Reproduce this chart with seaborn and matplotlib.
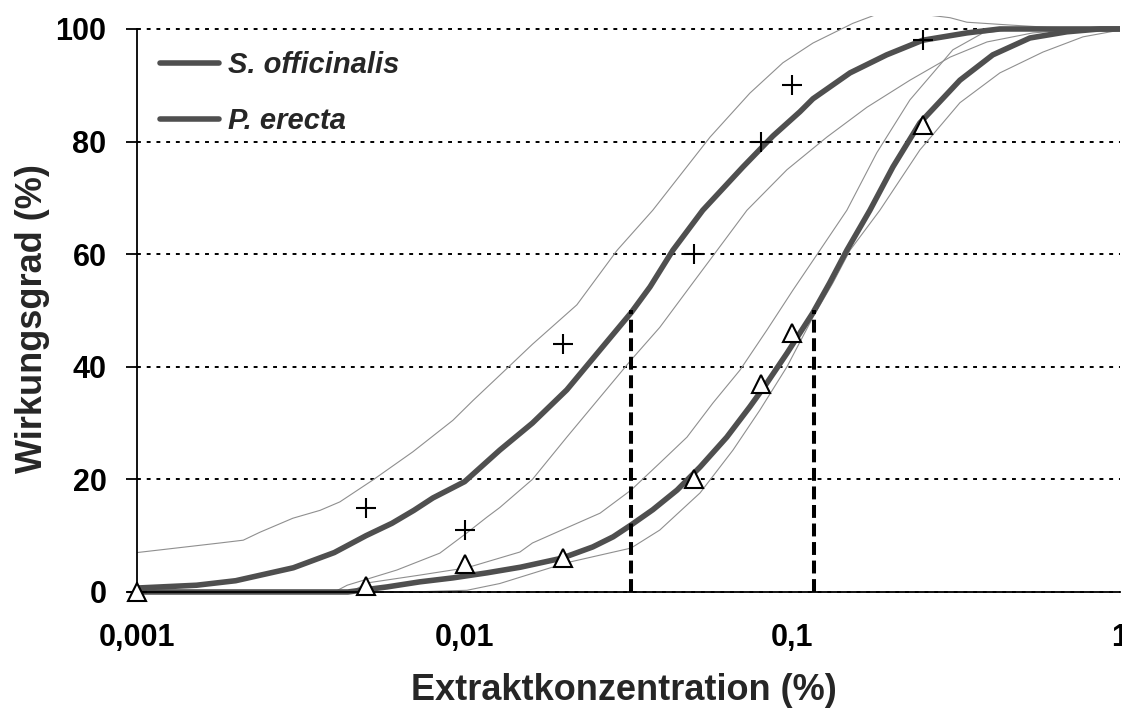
import numpy as np
import pandas as pd
import matplotlib
matplotlib.use("Agg")
import matplotlib.pyplot as plt
import matplotlib.ticker as mticker
from matplotlib.lines import Line2D
import seaborn as sns

# ---------------- data ----------------
# S. officinalis fitted curve and confidence band
s_fit_x = [0.001, 0.00152, 0.002, 0.003, 0.004, 0.005, 0.006, 0.007, 0.008, 0.01,
           0.0128, 0.0161, 0.0205, 0.0259, 0.0322, 0.0368, 0.0432, 0.0533, 0.0707,
           0.0873, 0.1055, 0.1156, 0.15, 0.194, 0.25, 0.341, 0.43, 1.0]
s_fit_y = [0.7, 1.2, 2.0, 4.3, 7.0, 10.0, 12.2, 14.5, 16.7, 19.6,
           25.2, 30.0, 35.9, 43.0, 49.6, 54.2, 60.7, 67.8, 75.5,
           81.0, 85.3, 87.6, 92.2, 95.4, 98.0, 99.3, 100.0, 100.0]
s_up_x = [0.001, 0.00179, 0.00211, 0.00237, 0.00299, 0.00362, 0.00416, 0.00525, 0.00695,
          0.00921, 0.0106, 0.0128, 0.0161, 0.022, 0.0292, 0.0375, 0.0561, 0.0742, 0.0936,
          0.1156, 0.153, 0.181, 0.25, 0.303, 0.341, 0.461, 0.6, 1.0]
s_up_y = [7.0, 8.7, 9.2, 10.6, 13.1, 14.5, 16.0, 19.9, 24.9,
          30.5, 34.0, 38.5, 44.0, 51.0, 60.7, 67.8, 80.8, 88.6, 94.0,
          97.5, 101.0, 102.6, 102.6, 102.0, 101.2, 100.7, 100.3, 100.0]
s_lo_x = [0.001, 0.004, 0.00438, 0.00621, 0.0084, 0.01016, 0.0117, 0.0128, 0.0161, 0.0205,
          0.0259, 0.0322, 0.0394, 0.0497, 0.0561, 0.0727, 0.0963, 0.1275, 0.169, 0.2285,
          0.303, 0.393, 0.542, 0.771, 1.0]
s_lo_y = [0.0, 0.0, 1.2, 3.9, 6.9, 10.5, 13.3, 15.0, 20.0, 27.5,
          34.6, 41.2, 47.0, 54.9, 59.0, 67.8, 75.0, 80.8, 86.1, 90.9,
          95.0, 97.7, 99.3, 100.0, 100.0]

# P. erecta fitted curve and confidence band
p_fit_x = [0.001, 0.0044, 0.0058, 0.0073, 0.0092, 0.0117, 0.0148, 0.0198, 0.0246, 0.0284,
           0.0322, 0.0375, 0.0445, 0.0523, 0.0631, 0.0742, 0.0836, 0.0963, 0.1055, 0.1156,
           0.130, 0.1467, 0.1725, 0.2028, 0.245, 0.3247, 0.409, 0.531, 0.689, 0.868, 1.0]
p_fit_y = [0.0, 0.0, 0.9, 1.8, 2.5, 3.4, 4.4, 6.0, 8.0, 9.8,
           11.9, 14.6, 18.1, 22.2, 27.5, 32.9, 37.1, 42.4, 46.0, 49.6,
           54.9, 60.7, 67.8, 75.5, 83.3, 90.9, 95.4, 98.4, 99.5, 100.0, 100.0]
p_up_x = [0.001, 0.0045, 0.00503, 0.0073, 0.01016, 0.01475, 0.0161, 0.0205, 0.0259, 0.0322,
          0.0394, 0.0477, 0.0573, 0.0692, 0.0836, 0.1004, 0.1214, 0.1467, 0.181, 0.2285,
          0.309, 0.382, 0.484, 1.0]
p_up_y = [0.0, 0.0, 1.6, 3.0, 4.3, 7.1, 8.7, 11.4, 14.0, 18.1,
          22.9, 27.5, 33.6, 39.4, 46.5, 53.6, 60.7, 67.8, 78.0, 87.4,
          96.3, 99.3, 100.0, 100.0]
p_lo_x = [0.001, 0.0069, 0.01016, 0.0128, 0.0205, 0.0322, 0.0394, 0.0523, 0.0659, 0.0796,
          0.0963, 0.1156, 0.133, 0.15, 0.185, 0.245, 0.3247, 0.43, 0.582, 0.771, 1.0]
p_lo_y = [0.0, 0.0, 0.3, 1.5, 5.2, 7.8, 11.0, 17.6, 25.2, 32.3,
          40.0, 48.8, 54.9, 60.7, 67.8, 78.5, 86.9, 92.2, 95.9, 98.6, 99.8]

# measured points
conc = [0.001, 0.005, 0.01, 0.02, 0.05, 0.08, 0.1, 0.25]
s_obs = [0, 15, 11, 44, 60, 80, 90, 98]
p_obs = [0, 1, 5, 6, 20, 37, 46, 83]

# EC50 values (dashed guides)
ec50 = [0.0322, 0.1164]
ec50_level = 50

series_names = ["S. officinalis", "P. erecta"]
x_ticks = [0.001, 0.01, 0.1, 1]
x_ticklabels = ["0,001", "0,01", "0,1", "1"]
y_ticks = [0, 20, 40, 60, 80, 100]
y_ticklabels = ["0", "20", "40", "60", "80", "100"]
x_label = "Extraktkonzentration (%)"
y_label = "Wirkungsgrad (%)"

# ---------------- styling ----------------
sns.set_style("white")
plt.rcParams["font.family"] = ["Liberation Sans", "DejaVu Sans"]
plt.rcParams["font.weight"] = "bold"

MAIN = "#4f4f4f"
BAND = "#8f8f8f"

fig = plt.figure(figsize=(11.22, 7.09), dpi=100)
ax = fig.add_axes([0.1221, 0.1587, 0.8761, 0.8187])

for xs, ys in [(s_up_x, s_up_y), (s_lo_x, s_lo_y), (p_up_x, p_up_y), (p_lo_x, p_lo_y)]:
    sns.lineplot(x=xs, y=ys, ax=ax, color=BAND, linewidth=0.8, estimator=None,
                 sort=False, zorder=2)
for xs, ys in [(s_fit_x, s_fit_y), (p_fit_x, p_fit_y)]:
    sns.lineplot(x=xs, y=ys, ax=ax, color=MAIN, linewidth=4.0, estimator=None,
                 sort=False, zorder=3)

ax.vlines(ec50, 0, ec50_level, colors="black", linewidth=2.9,
          linestyles=(0, (3.2, 1.4)), zorder=4)

ax.plot(conc, s_obs, linestyle="none", marker="+", markersize=15, mew=1.5,
        color="black", zorder=5, clip_on=False)
ax.plot(conc, p_obs, linestyle="none", marker="^", markersize=13, mew=1.5,
        markerfacecolor="white", markeredgecolor="black", zorder=5, clip_on=False)

ax.set_xscale("log")
ax.set_xlim(0.001, 1)
ax.set_ylim(-0.8, 102.3)

ax.spines["top"].set_visible(False)
ax.spines["right"].set_visible(False)
ax.spines["bottom"].set_position(("data", 0))
ax.spines["left"].set_bounds(0, 100)
for sp in ["left", "bottom"]:
    ax.spines[sp].set_color("black")
    ax.spines[sp].set_linewidth(1.3)
    ax.spines[sp].set_zorder(4.5)

ax.xaxis.set_major_locator(mticker.FixedLocator(x_ticks))
ax.xaxis.set_major_formatter(mticker.FixedFormatter(x_ticklabels))
ax.xaxis.set_minor_locator(mticker.LogLocator(base=10, subs=np.arange(2, 10), numticks=20))
ax.xaxis.set_minor_formatter(mticker.NullFormatter())
ax.yaxis.set_major_locator(mticker.FixedLocator(y_ticks))
ax.yaxis.set_major_formatter(mticker.FixedFormatter(y_ticklabels))

ax.tick_params(axis="x", which="major", direction="out", length=8, width=1.3,
               pad=14, labelsize=22, colors="black")
ax.tick_params(axis="x", which="minor", direction="out", length=5, width=1.1, colors="black")
ax.tick_params(axis="y", which="major", direction="out", length=8, width=1.3,
               pad=14, labelsize=22, colors="black", left=True)
for lab in ax.get_xticklabels() + ax.get_yticklabels():
    lab.set_fontweight("bold")

ax.grid(axis="y", which="major", color="black", linestyle=(0, (2, 3)), linewidth=1.4)
ax.grid(axis="x", visible=False)
ax.set_axisbelow(True)

ax.set_xlabel(x_label, fontsize=26, fontweight="bold")
ax.set_ylabel(y_label, fontsize=26, fontweight="bold")
ax.xaxis.set_label_coords(0.4954, -0.131)
ax.yaxis.set_label_coords(-0.088, 0.478)

handles = [Line2D([0], [0], color=MAIN, linewidth=4.0) for _ in series_names]
leg = ax.legend(handles, series_names, loc="upper left", bbox_to_anchor=(0.012, 0.959),
                frameon=False, handlelength=2.0, handletextpad=0.3, labelspacing=0.94,
                borderaxespad=0.0,
                prop=dict(family="Liberation Sans", weight="bold", style="italic", size=21))

fig.savefig("out.png", dpi=100)
